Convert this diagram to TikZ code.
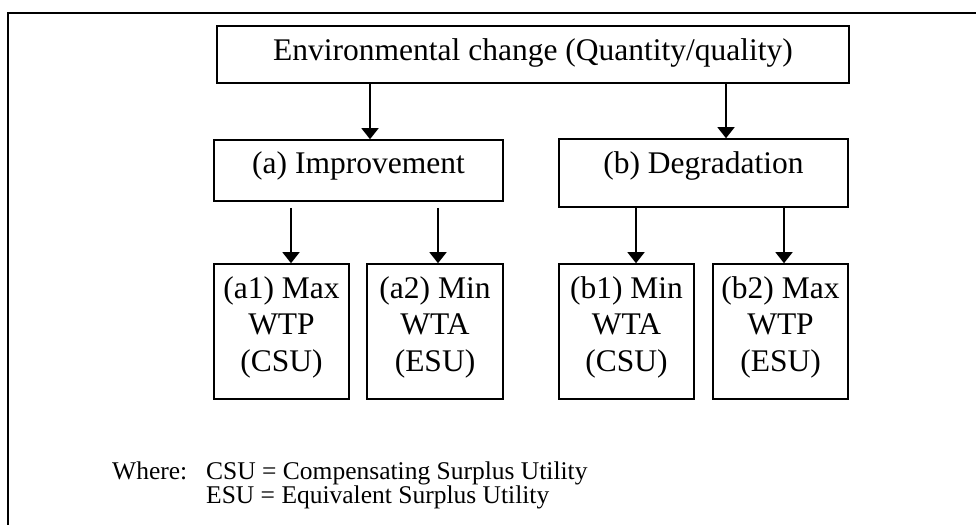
\documentclass[tikz,border=0pt]{standalone}
\usepackage{fontspec}
\setmainfont{Liberation Serif}
\usetikzlibrary{arrows.meta}

\tikzset{
  box/.style={draw, line width=1.6pt, rectangle, inner xsep=0pt, inner ysep=0pt,
    anchor=base, font=\fontsize{31.5}{36.5}\selectfont},
  arr/.style={line width=1.5pt, -{Triangle[width=17pt,length=11pt]}},
  frame/.style={line width=1.4pt},
  note/.style={anchor=base west, inner sep=0pt, font=\fontsize{25.5}{25}\selectfont}
}

\begin{document}
\begin{tikzpicture}[x=1pt, y=-1pt]
\useasboundingbox (0,0) rectangle (976,525);

% page frame, open to the right and bottom
\draw[frame] (976,13) -- (8,13) -- (8,525);

% top level
\node[box, minimum width=632pt, text height=34pt, text depth=23pt] (env) at (533,60)
  {Environmental change (Quantity/quality)};

% second level
\node[box, minimum width=289pt, text height=33pt, text depth=28pt] (imp) at (358.5,173)
  {(a) Improvement};
\node[box, minimum width=289pt, text height=34pt, text depth=34pt] (deg) at (703.5,173)
  {(b) Degradation};

% third level
\node[box, minimum width=135pt, text height=34pt, text depth=101pt] (a1) at (281.5,298)
  {\begin{tabular}[t]{@{}c@{}}(a1) Max\\WTP\\(CSU)\end{tabular}};
\node[box, minimum width=136pt, text height=34pt, text depth=101pt] (a2) at (435,298)
  {\begin{tabular}[t]{@{}c@{}}(a2) Min\\WTA\\(ESU)\end{tabular}};
\node[box, minimum width=135pt, text height=34pt, text depth=101pt] (b1) at (626.5,298)
  {\begin{tabular}[t]{@{}c@{}}(b1) Min\\WTA\\(CSU)\end{tabular}};
\node[box, minimum width=135pt, text height=34pt, text depth=101pt] (b2) at (780.5,298)
  {\begin{tabular}[t]{@{}c@{}}(b2) Max\\WTP\\(ESU)\end{tabular}};

% arrow columns
\coordinate (xa) at (370,0);
\coordinate (xb) at (726,0);
\coordinate (xa1) at (291,0);
\coordinate (xa2) at (438,0);
\coordinate (xb1) at (636,0);
\coordinate (xb2) at (784,0);

\draw[arr] (env.south -| xa) -- (imp.north -| xa);
\draw[arr] (env.south -| xb) -- (deg.north -| xb);
\draw[arr, shorten <=6pt] (imp.south -| xa1) -- (a1.north -| xa1);
\draw[arr, shorten <=6pt] (imp.south -| xa2) -- (a2.north -| xa2);
\draw[arr] (deg.south -| xb1) -- (b1.north -| xb1);
\draw[arr] (deg.south -| xb2) -- (b2.north -| xb2);

% legend
\node[note] (where) at (112,479) {Where:};
\node[note] (csu) at (206,479) {CSU = Compensating Surplus Utility};
\node[note] (esu) at (206,503) {ESU = Equivalent Surplus Utility};
\end{tikzpicture}
\end{document}
